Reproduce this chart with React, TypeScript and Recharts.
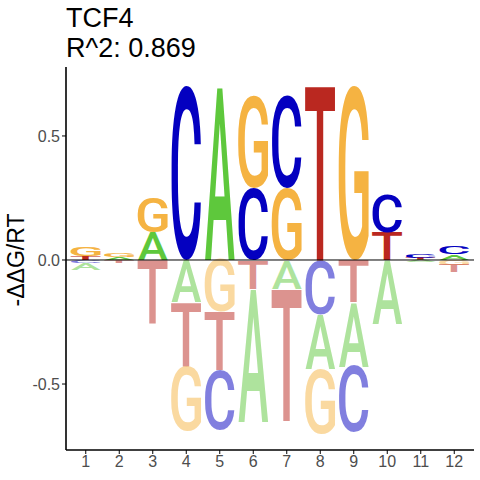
import React from "react";
import { BarChart, Bar, XAxis, YAxis, ReferenceLine } from "recharts";

// sequence positions
const positions = [1, 2, 3, 4, 5, 6, 7, 8, 9, 10, 11, 12];

// letters above zero, listed from the bottom of the stack upwards
const upLetters = ["TG", "AG", "AG", "C", "A", "CG", "GC", "T", "G", "TC", "TC", "AC"];
const upHeights = [
  [0.016, 0.036],
  [0.01, 0.014],
  [0.11, 0.14],
  [0.7],
  [0.7],
  [0.29, 0.37],
  [0.29, 0.37],
  [0.705],
  [0.7],
  [0.11, 0.155],
  [0.008, 0.016],
  [0.022, 0.033],
];

// letters below zero, listed from zero downwards
const downLetters = ["CA", "T", "T", "ATG", "GTC", "TA", "AT", "CAG", "TAC", "A", "A", "GT"];
const downHeights = [
  [0.012, 0.028],
  [0.012],
  [0.26],
  [0.17, 0.26, 0.26],
  [0.21, 0.235, 0.24],
  [0.115, 0.54],
  [0.115, 0.535],
  [0.22, 0.22, 0.26],
  [0.17, 0.26, 0.265],
  [0.26],
  [0.01],
  [0.02, 0.03],
];

const yTicks = [-0.5, 0, 0.5];

const letterColors: Record<string, string> = {
  A: "#5EC83C",
  C: "#0400C0",
  G: "#F5B342",
  T: "#BA2820",
};

const GLYPH_FONT = "Roboto";
const GLYPH_WEIGHT = 500;

type Ink = { l: number; r: number; a: number; d: number };
const inkCache: Record<string, Ink> = {};

// ink box of a letter at 100px, so it can be stretched to fill a bar
function measureInk(ch: string): Ink {
  if (inkCache[ch]) return inkCache[ch];
  let ink: Ink = { l: -4, r: 62, a: 71, d: 1 };
  try {
    const ctx = document.createElement("canvas").getContext("2d");
    if (ctx) {
      ctx.font = `${GLYPH_WEIGHT} 100px ${GLYPH_FONT}`;
      const t = ctx.measureText(ch);
      if (t.actualBoundingBoxAscent !== undefined) {
        ink = {
          l: t.actualBoundingBoxLeft,
          r: t.actualBoundingBoxRight,
          a: t.actualBoundingBoxAscent,
          d: t.actualBoundingBoxDescent,
        };
      }
    }
  } catch (e) {
    // keep defaults
  }
  inkCache[ch] = ink;
  return ink;
}

const Glyph = (props: any) => {
  const { x, y, width, height, letter, faded } = props;
  if (!letter) return null;
  let top = y;
  let h = height;
  if (h < 0) {
    top = y + h;
    h = -h;
  }
  if (!(h > 0.3)) return null;
  const m = measureInk(letter);
  const sx = width / (m.l + m.r);
  const sy = h / (m.a + m.d);
  return (
    <text
      transform={`translate(${x},${top}) scale(${sx},${sy}) translate(${m.l},${m.a})`}
      fontFamily={GLYPH_FONT}
      fontWeight={GLYPH_WEIGHT}
      fontSize={100}
      fill={letterColors[letter]}
      fillOpacity={faded ? 0.5 : 1}
    >
      {letter}
    </text>
  );
};

const rows = positions.map((p, i) => {
  const row: any = { pos: String(p) };
  for (let s = 0; s < 3; s++) {
    row[`u${s}`] = upHeights[i][s] ?? 0;
    row[`uL${s}`] = upLetters[i][s] ?? "";
    row[`d${s}`] = -(downHeights[i][s] ?? 0);
    row[`dL${s}`] = downLetters[i][s] ?? "";
  }
  return row;
});

const slots = [0, 1, 2];
const tickStyle = { fill: "#4D4D4D", fontSize: 16, fontFamily: "Liberation Sans, Arial, sans-serif" };

export default function App() {
  return (
    <div style={{ position: "absolute", left: 0, top: 0, width: 480, height: 480, background: "#fff" }}>
      <BarChart
        width={480}
        height={480}
        data={rows}
        stackOffset="sign"
        barCategoryGap="5%"
        margin={{ top: 67, right: 6, bottom: 0, left: 0 }}
      >
        <XAxis
          dataKey="pos"
          height={30}
          padding={{ left: 3, right: 3 }}
          tick={tickStyle}
          tickSize={4}
          tickLine={{ stroke: "#000" }}
          axisLine={{ stroke: "#000", strokeWidth: 1.6 }}
        />
        <YAxis
          type="number"
          domain={[-0.766, 0.778]}
          allowDataOverflow
          ticks={yTicks}
          tickFormatter={(v: number) => v.toFixed(1)}
          width={66}
          tick={tickStyle}
          tickSize={4}
          tickLine={{ stroke: "#000" }}
          axisLine={{ stroke: "#000", strokeWidth: 1.6 }}
        />
        {slots.map((s) => (
          <Bar
            key={`u${s}`}
            dataKey={`u${s}`}
            stackId="logo"
            isAnimationActive={false}
            shape={(p: any) => <Glyph {...p} letter={p.payload[`uL${s}`]} />}
          />
        ))}
        {slots.map((s) => (
          <Bar
            key={`d${s}`}
            dataKey={`d${s}`}
            stackId="logo"
            isAnimationActive={false}
            shape={(p: any) => <Glyph {...p} letter={p.payload[`dL${s}`]} faded />}
          />
        ))}
        <ReferenceLine y={0} stroke="#000" strokeWidth={1} />
      </BarChart>
      <svg
        width={480}
        height={480}
        style={{ position: "absolute", left: 0, top: 0, pointerEvents: "none" }}
      >
        <g fontFamily="Liberation Sans, Arial, sans-serif" fill="#000">
          <text x={66} y={27} fontSize={27}>TCF4</text>
          <text x={66} y={57} fontSize={27}>R^2: 0.869</text>
          <text
            x={0}
            y={0}
            fontSize={23}
            textAnchor="middle"
            transform="translate(24,260) rotate(-90)"
          >
            -ΔΔG/RT
          </text>
        </g>
      </svg>
    </div>
  );
}
